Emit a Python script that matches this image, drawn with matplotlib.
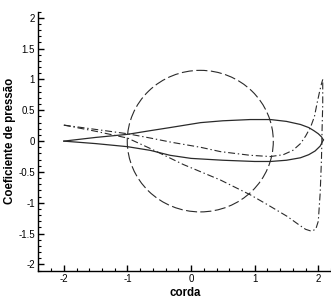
import numpy as np
import matplotlib
matplotlib.use("Agg")
import matplotlib.pyplot as plt
from matplotlib.patches import Circle
from matplotlib.ticker import MultipleLocator

plt.rcParams['font.family'] = ['Liberation Sans', 'DejaVu Sans']
plt.rcParams['lines.scale_dashes'] = False

# perfil (superficie superior e inferior)
upper_x = [-2.0, -1.5, -1.0, -0.64, -0.33, 0.15, 0.5, 0.93, 1.25, 1.5, 1.72, 1.85, 1.93, 2.0, 2.05, 2.08]
upper_y = [0.0, 0.06, 0.11, 0.17, 0.22, 0.30, 0.33, 0.35, 0.35, 0.32, 0.27, 0.22, 0.17, 0.12, 0.07, 0.02]
lower_x = [-2.0, -1.5, -1.0, -0.64, -0.33, 0.0, 0.5, 1.0, 1.25, 1.5, 1.72, 1.85, 1.95, 2.03, 2.08]
lower_y = [0.0, -0.04, -0.09, -0.15, -0.23, -0.28, -0.31, -0.33, -0.33, -0.31, -0.27, -0.22, -0.16, -0.08, 0.02]

# circulo
circle_center = (0.145, 0.0)
circle_radius = 1.148

# coeficiente de pressao, extradorso
cp_a_x = [-2.0, -1.5, -1.0, -0.64, -0.3, 0.15, 0.46, 0.93, 1.25, 1.45, 1.6, 1.72, 1.8, 1.88, 1.94, 1.98, 2.02, 2.05, 2.07]
cp_a_y = [0.26, 0.19, 0.12, 0.05, -0.02, -0.10, -0.17, -0.23, -0.25, -0.22, -0.15, -0.04, 0.08, 0.23, 0.40, 0.61, 0.80, 0.93, 1.0]
# coeficiente de pressao, intradorso
cp_b_x = [-2.0, -1.5, -1.0, -0.64, -0.12, 0.46, 0.93, 1.2, 1.51, 1.70, 1.80, 1.89, 1.96, 2.0, 2.03, 2.05, 2.06, 2.07, 2.07]
cp_b_y = [0.26, 0.16, 0.05, -0.12, -0.38, -0.63, -0.87, -1.03, -1.22, -1.36, -1.43, -1.46, -1.43, -1.3, -0.84, -0.3, 0.2, 0.6, 1.0]

fig = plt.figure(figsize=(3.31, 2.99), dpi=100)
ax = fig.add_axes([0.116, 0.095, 0.884, 0.866])

col = '#2a2a2a'
ax.plot(upper_x, upper_y, '-', color=col, lw=0.9)
ax.plot(lower_x, lower_y, '-', color=col, lw=0.9)
ax.add_patch(Circle(circle_center, circle_radius, fill=False, ec=col, lw=0.8,
                    linestyle=(0, (8, 2.5))))
ax.plot(cp_a_x, cp_a_y, color=col, lw=0.8, dashes=(5, 2, 1, 2))
ax.plot(cp_b_x, cp_b_y, color=col, lw=0.8, dashes=(5, 2, 1, 2))

ax.set_xlim(-2.4, 2.2)
ax.set_ylim(-2.1, 2.1)
ax.xaxis.set_major_locator(MultipleLocator(1))
ax.xaxis.set_minor_locator(MultipleLocator(0.2))
ax.yaxis.set_major_locator(MultipleLocator(0.5))
ax.yaxis.set_minor_locator(MultipleLocator(0.1))
ax.set_xticks([-2, -1, 0, 1, 2])
ax.set_yticks([-2, -1.5, -1, -0.5, 0, 0.5, 1, 1.5, 2])
ax.set_yticklabels(['-2', '-1.5', '-1', '-0.5', '0', '0.5', '1', '1.5', '2'])
ax.set_xticklabels(['-2', '-1', '0', '1', '2'])

for s in ['top', 'right']:
    ax.spines[s].set_visible(False)
for s in ['left', 'bottom']:
    ax.spines[s].set_linewidth(1.0)
ax.tick_params(which='major', direction='in', length=4, width=1.0, labelsize=7, pad=2.5)
ax.tick_params(which='minor', direction='in', length=2, width=0.8)

ax.set_xlabel('corda', fontsize=8.3, fontweight='bold', labelpad=2)
ax.set_ylabel('Coeficiente de pressão', fontsize=8.3, fontweight='bold', labelpad=2)

plt.savefig('out.png', dpi=100)
